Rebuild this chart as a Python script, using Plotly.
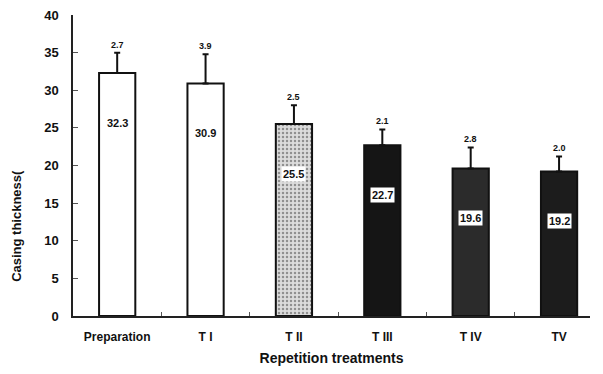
import plotly.graph_objects as go

categories = ["Preparation", "T I", "T II", "T III", "T IV", "TV"]
values = [32.3, 30.9, 25.5, 22.7, 19.6, 19.2]
errors = [2.7, 3.9, 2.5, 2.1, 2.8, 2.0]
value_labels = ["32.3", "30.9", "25.5", "22.7", "19.6", "19.2"]
error_labels = ["2.7", "3.9", "2.5", "2.1", "2.8", "2.0"]
y_ticks = [0, 5, 10, 15, 20, 25, 30, 35, 40]

fills = ["#ffffff", "#ffffff", "#dcdcdc", "#151515", "#2b2b2b", "#1c1c1c"]
patterns = ["", "", ".", "", "", ""]

xs = list(range(len(categories)))
FONT = "Liberation Sans, Arial, sans-serif"

fig = go.Figure()
fig.add_trace(go.Bar(
    x=xs, y=values, width=0.41,
    marker=dict(color=fills, line=dict(color="#111", width=2),
                pattern=dict(shape=patterns, fgcolor="#999999", size=4, solidity=0.3)),
    error_y=dict(type="data", symmetric=False, array=errors,
                 arrayminus=[0] * len(errors), color="#111", thickness=2, width=3),
    showlegend=False,
))

annotations = []
for x, v, e, vl, el in zip(xs, values, errors, value_labels, error_labels):
    annotations.append(dict(x=x, y=v - 6.6, text="<b>" + vl + "</b>", showarrow=False,
                            font=dict(family=FONT, size=11, color="#111"),
                            bgcolor="white", borderpad=1))
    annotations.append(dict(x=x, y=v + e, yshift=8, text="<b>" + el + "</b>", showarrow=False,
                            font=dict(family=FONT, size=9, color="#111")))

annotations.append(dict(xref="paper", yref="paper", x=-0.108, y=0.3, text="<b>Casing thickness(</b>",
                        textangle=-90, showarrow=False, xanchor="center", yanchor="middle",
                        font=dict(family=FONT, size=13, color="#111")))

fig.update_layout(
    width=603, height=374,
    margin=dict(l=73, r=13, t=15, b=58),
    plot_bgcolor="white", paper_bgcolor="white",
    font=dict(family=FONT, size=13, color="#111"),
    annotations=annotations,
    bargap=0.5,
)
fig.update_xaxes(
    range=[-0.5, 5.35], tickvals=xs, ticktext=["<b>" + c + "</b>" for c in categories],
    ticks="", showline=True, linecolor="#222", linewidth=1.5, showgrid=False, zeroline=False,
    ticklabelstandoff=9, automargin=False,
    tickfont=dict(family=FONT, size=12, color="#111"),
    minor=dict(tickvals=[i + 0.5 for i in xs[:-1]], ticks="inside", ticklen=4, tickcolor="#555"),
    title=dict(text="<b>Repetition treatments</b>", font=dict(family=FONT, size=14, color="#111"), standoff=10),
)
fig.update_yaxes(
    range=[0, 40], tickvals=y_ticks, ticktext=["<b>%d</b>" % t for t in y_ticks],
    ticks="inside", ticklen=5, tickcolor="#555", ticklabelstandoff=10, automargin=False,
    showline=True, linecolor="#222", linewidth=1.5, showgrid=False, zeroline=False,
    tickfont=dict(family=FONT, size=13, color="#111"),
)

fig.write_html("out.html")
